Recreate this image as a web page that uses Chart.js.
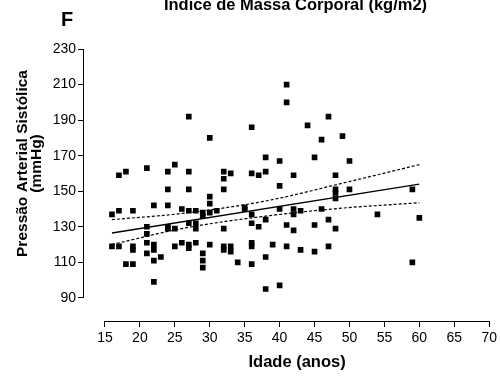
<!DOCTYPE html>
<html>
<head>
<meta charset="utf-8">
<title>Pressão Arterial Sistólica x Idade</title>
<script src="https://cdn.jsdelivr.net/npm/chart.js@4.4.1/dist/chart.umd.min.js"></script>
<style>
  html, body { margin: 0; padding: 0; background: #fff; }
  #wrap { position: relative; width: 500px; height: 376px; }
</style>
</head>
<body>
<div id="wrap"><canvas id="pasChart"></canvas></div>
<script>
// Age (years) and systolic pressure (mmHg) for each subject
const ages = [
  27, 30, 21, 25, 41, 41, 47, 44, 36, 46, 38, 40, 45, 49, 50,
  17, 18, 24, 27, 32, 33, 36, 37, 38, 42, 48, 32, 24, 27, 30,
  30, 16, 17, 19, 22, 24, 26, 27, 28, 29, 29, 30, 31, 21, 21,
  24, 24, 25, 27, 28, 28, 16, 17, 19, 19, 21, 22, 22, 25, 26,
  27, 27, 28, 30, 21, 23, 22, 29, 29, 29, 18, 19, 22, 32, 40,
  48, 48, 48, 35, 35, 36, 40, 42, 42, 43, 46, 32, 36, 37, 38,
  41, 42, 45, 47, 48, 32, 32, 33, 33, 34, 36, 36, 36, 38, 39,
  41, 43, 45, 47, 38, 40, 50, 59, 54, 60, 59
];
const pressures = [
  192, 180, 163, 165, 210, 200, 192, 187, 186, 179, 169, 167, 169, 181, 167,
  159, 161, 161, 161, 161, 160, 160, 159, 161, 159, 159, 157, 151, 151, 147,
  143, 137, 139, 139, 142, 142, 140, 139, 139, 138, 136, 138, 139, 130, 126,
  130, 129, 129, 132, 132, 129, 119, 119, 119, 117, 121, 120, 117, 119, 121,
  120, 118, 121, 120, 115, 113, 111, 115, 111, 107, 109, 109, 99, 151, 153,
  151, 149, 146, 141, 140, 137, 140, 140, 137, 139, 140, 129, 132, 130, 134,
  131, 128, 131, 134, 129, 119, 117, 119, 116, 110, 121, 119, 109, 113, 120,
  119, 117, 116, 119, 95, 97, 151, 151, 137, 135, 110
];

// Regression line and its 95% confidence band
const fitAges = [16, 60];
const fitValues = [126.5, 154];
const bandAges = [16, 26, 38, 49, 60];
const bandUpper = [134, 137.5, 144.5, 154.5, 165];
const bandLower = [120, 129, 136, 140.5, 143.5];

const xTicks = [15, 20, 25, 30, 35, 40, 45, 50, 55, 60, 65, 70];
const yTicks = [90, 110, 130, 150, 170, 190, 210, 230];

const FONT = 'Arial, "Liberation Sans", Helvetica, sans-serif';

function toPoints(xs, ys) {
  return xs.map((x, i) => ({ x: x, y: ys[i] }));
}

// axis lines only span the tick range, detached from the plot corner
const detachedAxes = {
  id: 'detachedAxes',
  afterDraw(chart) {
    const { ctx, chartArea, scales: { x, y } } = chart;
    ctx.save();
    ctx.strokeStyle = '#000';
    ctx.lineWidth = 1;
    ctx.beginPath();
    const ax = Math.round(chartArea.left) - 0.5;
    ctx.moveTo(ax, y.getPixelForValue(yTicks[0]));
    ctx.lineTo(ax, y.getPixelForValue(yTicks[yTicks.length - 1]));
    const ay = Math.round(chartArea.bottom) + 0.5;
    ctx.moveTo(x.getPixelForValue(xTicks[0]), ay);
    ctx.lineTo(x.getPixelForValue(xTicks[xTicks.length - 1]), ay);
    ctx.stroke();

    ctx.fillStyle = '#000';
    ctx.textAlign = 'left';
    ctx.textBaseline = 'alphabetic';
    ctx.font = 'bold 20px ' + FONT;
    ctx.fillText('F', 61, 26);

    ctx.textAlign = 'center';
    ctx.font = 'bold 16.5px ' + FONT;
    ctx.fillText('Índice de Massa Corporal (kg/m2)', 295.5, 10);

    const midX = (x.getPixelForValue(15) + x.getPixelForValue(70)) / 2;
    ctx.fillText('Idade (anos)', midX, 367);

    ctx.font = 'bold 15.5px ' + FONT;
    ctx.translate(26.5, 163.5);
    ctx.rotate(-Math.PI / 2);
    ctx.fillText('Pressão Arterial Sistólica', 0, 0);
    ctx.fillText('(mmHg)', 0, 14);
    ctx.restore();
  }
};

const ctx = document.getElementById('pasChart').getContext('2d');

new Chart(ctx, {
  type: 'scatter',
  data: {
    datasets: [
      {
        label: 'Indivíduos',
        data: toPoints(ages, pressures),
        pointStyle: 'rect',
        pointRadius: 4,
        pointBorderWidth: 0,
        backgroundColor: '#000',
        borderColor: '#000'
      },
      {
        label: 'Regressão',
        data: toPoints(fitAges, fitValues),
        showLine: true,
        pointRadius: 0,
        borderColor: '#000',
        borderWidth: 1.3
      },
      {
        label: 'IC 95% superior',
        data: toPoints(bandAges, bandUpper),
        showLine: true,
        pointRadius: 0,
        borderColor: '#000',
        borderWidth: 1.2,
        borderDash: [3, 2],
        cubicInterpolationMode: 'monotone'
      },
      {
        label: 'IC 95% inferior',
        data: toPoints(bandAges, bandLower),
        showLine: true,
        pointRadius: 0,
        borderColor: '#000',
        borderWidth: 1.2,
        borderDash: [3, 2],
        cubicInterpolationMode: 'monotone'
      }
    ]
  },
  options: {
    responsive: true,
    maintainAspectRatio: false,
    animation: false,
    devicePixelRatio: 1,
    layout: { padding: { top: 49, right: 9.7, left: 0, bottom: 0 } },
    plugins: {
      legend: { display: false },
      tooltip: { enabled: false }
    },
    scales: {
      x: {
        type: 'linear',
        min: 12,
        max: 70,
        afterBuildTicks: s => { s.ticks = xTicks.map(v => ({ value: v })); },
        afterFit: s => { s.height = 55; },
        border: { display: false },
        grid: { drawOnChartArea: false, tickLength: 6, color: '#000', lineWidth: 1 },
        ticks: {
          autoSkip: false,
          maxRotation: 0,
          padding: 3,
          color: '#000',
          font: { family: FONT, size: 14 }
        }
      },
      y: {
        type: 'linear',
        min: 77,
        max: 230,
        afterBuildTicks: s => { s.ticks = yTicks.map(v => ({ value: v })); },
        afterFit: s => { s.width = 84; },
        border: { display: false },
        grid: { drawOnChartArea: false, tickLength: 6, color: '#000', lineWidth: 1 },
        ticks: {
          autoSkip: false,
          padding: 2,
          color: '#000',
          font: { family: FONT, size: 14 }
        }
      }
    }
  },
  plugins: [detachedAxes]
});
</script>
</body>
</html>
